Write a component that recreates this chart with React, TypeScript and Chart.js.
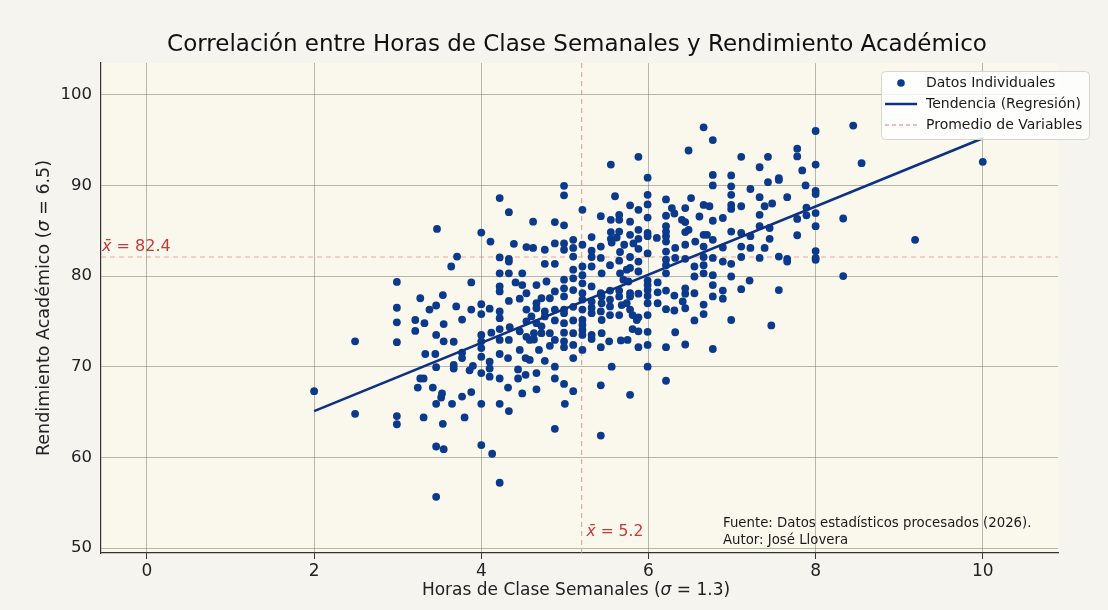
import React, { useEffect, useRef } from 'react';
import { Chart, registerables } from 'chart.js';

Chart.register(...registerables);

// ---------- data ----------
const hoursData: number[] = [
  4.22, 4.33, 3.47, 4.0, 4.11, 4.39, 4.54, 3.71, 4.22, 4.33,
  6.66, 6.77, 6.48, 5.88, 5.55, 7.11, 7.33, 7.43, 5.99, 6.77, 6.99, 7.43, 4.99, 4.99, 5.6, 5.99, 6.77, 6.99, 6.99, 7.22,
  7.33, 5.99, 6.21, 6.51, 5.21, 5.78, 5.88, 6.66, 6.73, 6.99, 6.99, 7.11, 7.39, 6.28, 6.44, 4.62, 4.88, 4.99, 5.43, 5.55,
  5.65, 5.65, 5.78, 5.99, 6.21, 6.31, 6.4, 6.61, 6.77, 6.89, 7.33, 7.33, 6.44, 6.21, 6.21, 5.88, 5.55, 5.55, 5.62, 5.32,
  5.1, 4.99, 4.99, 5.21, 5.32, 5.43, 5.56, 5.71, 5.82, 5.88, 5.99, 5.99, 6.1, 6.21, 6.21, 6.32, 6.44, 6.48, 6.56, 6.66,
  6.7, 6.77, 6.89, 6.99, 7.11, 7.22, 7.39, 5.99, 6.21, 5.66, 5.1, 4.62,
  8.0, 8.45, 7.78, 7.78, 7.84, 8.0, 8.55, 10.0, 7.56, 7.56, 7.88, 8.0, 8.0, 7.66, 7.48, 7.89, 8.0, 7.89, 7.78, 8.33,
  7.45, 8.0, 7.78, 7.45, 9.19, 8.0, 7.56, 7.66, 8.0,
  7.66, 8.0, 8.33, 7.56, 7.47,
  3.64, 2.99, 3.88, 3.27, 3.54, 3.46, 3.38, 3.7, 4.0, 3.88, 4.1, 4.0, 2.99, 2.99, 3.21, 3.32, 3.55, 3.77, 3.21, 3.46,
  2.49, 2.99, 3.55, 3.67, 4.0, 4.0, 4.0, 4.0, 4.12, 4.22, 4.22, 4.22, 4.22, 4.22, 4.22, 4.22, 4.33, 4.33, 4.33, 4.49,
  4.41, 4.54, 4.54, 4.34, 4.46, 4.33, 3.33, 3.45, 3.77, 3.77, 4.22, 4.32, 4.1, 4.1, 4.53, 4.53, 3.46, 3.67, 3.67, 3.86,
  3.9, 4.0, 4.44, 4.44, 3.27, 3.31, 3.24, 3.42, 4.1, 4.22, 4.32, 3.53, 3.52, 3.88, 3.77, 4.49, 2.0, 3.46, 3.65, 4.0, 4.22,
  2.49, 2.99, 2.99, 3.31, 3.54, 3.8, 4.33, 3.46, 3.55, 4.0, 4.13, 4.22, 3.46,
  4.88, 5.43, 5.0,
  6.99, 6.99, 7.21, 7.11, 6.89, 6.89, 6.77, 6.77, 6.66, 6.66, 6.55, 6.99, 6.77, 6.44, 6.32, 6.21, 6.21, 5.99, 5.99, 5.99,
  5.88, 5.78, 5.56, 5.43, 5.43, 5.67, 5.75, 5.53, 5.44, 5.32, 5.32, 5.21, 5.1, 5.1, 4.99, 4.99, 4.99, 5.1, 4.88, 4.76,
  4.66, 4.88, 4.99, 5.1, 4.66, 4.69, 4.58, 4.63, 4.72, 4.82, 4.72, 4.88, 4.99, 5.1, 4.99, 4.99, 5.1, 5.21, 5.21, 5.21,
  5.21, 5.21, 5.32, 5.44, 5.54, 5.65, 5.78, 5.81, 5.86, 5.88, 5.99, 5.99, 5.81, 5.88, 5.68, 5.74, 5.54, 5.44, 5.54, 5.65,
  5.78, 5.88, 5.54, 5.65, 5.78, 5.99, 5.99, 5.99, 6.11, 6.11, 6.21, 6.21, 6.31, 6.41, 6.44, 6.44, 6.21, 6.21, 6.21, 6.55,
  6.55, 6.66, 6.66, 6.77, 5.66, 5.74, 5.78, 5.88, 5.7, 5.76, 5.54, 5.44, 5.32, 5.32, 5.43, 5.21, 5.21, 5.21, 5.21, 5.21,
  5.1, 5.1, 5.1, 4.99, 4.99, 4.99, 4.88, 4.78, 4.66, 4.76, 4.88, 4.88, 4.76, 4.66, 4.66, 4.82, 4.72, 4.6, 4.88, 4.82,
  5.32, 5.43, 5.78, 5.88, 6.32, 6.44, 6.66, 6.77, 7.11, 7.33, 6.89, 5.65,
  4.66, 4.76, 4.63, 4.58, 5.32, 5.43, 5.32, 5.44, 5.99, 6.11, 6.31, 6.44, 6.55,
  5.1, 4.88, 4.76, 5.65, 5.78, 5.88, 6.44, 6.66, 7.11, 7.22,
  4.54, 4.46, 4.49, 4.54, 4.46,
];

const scoresData: number[] = [
  88.6, 87.05, 85.2, 84.8, 83.8, 83.55, 83.2, 82.15, 82.05, 81.9,
  96.4, 95.0, 93.85, 93.15, 92.3, 93.15, 92.0, 93.15, 90.85, 91.15, 91.1, 90.35, 89.95, 88.9, 88.8, 88.96, 90.0, 89.9, 88.96, 89.6,
  88.7, 87.9, 88.45, 88.6, 87.3, 87.8, 87.3, 87.85, 87.7, 87.85, 87.4, 87.7, 87.7, 87.5, 87.5, 86.0, 85.95, 85.6, 86.6, 86.2,
  86.75, 86.2, 86.0, 86.45, 86.65, 86.9, 86.2, 86.57, 86.1, 86.4, 86.75, 85.5, 85.95, 85.5, 84.9, 85.1, 84.85, 84.1, 84.25, 84.3,
  84.0, 83.6, 82.9, 83.45, 82.8, 83.25, 83.7, 83.45, 83.6, 83.0, 84.75, 84.4, 84.2, 84.4, 83.8, 83.1, 84.85, 85.1, 83.8, 84.55,
  84.55, 84.0, 83.15, 84.9, 84.75, 84.4, 83.1, 82.5, 82.7, 82.65, 82.15, 83.1,
  96.0, 96.6, 94.05, 93.2, 91.65, 92.3, 92.45, 92.6, 90.8, 90.6, 90.0, 89.4, 89.05, 88.7, 88.0, 87.55, 86.95, 86.7, 86.3, 86.35,
  85.3, 85.5, 84.5, 84.1, 84.0, 82.75, 82.15, 81.9, 82.0,
  81.6, 81.8, 80.0, 78.45, 74.55,
  81.05, 79.35, 79.3, 77.55, 77.9, 76.75, 76.3, 76.65, 76.9, 76.3, 76.4, 75.8, 76.5, 74.9, 75.15, 74.8, 74.7, 75.2, 73.95, 73.5,
  72.8, 72.7, 72.8, 72.75, 73.5, 72.8, 72.05, 71.1, 73.75, 72.95, 74.15, 76.1, 75.35, 78.85, 78.3, 80.3, 80.3, 77.25, 81.6, 80.3,
  79.3, 76.3, 75.0, 74.35, 73.9, 72.95, 71.4, 71.4, 71.55, 70.95, 71.4, 70.95, 70.55, 69.8, 70.95, 69.1, 69.95, 70.2, 69.8, 69.6,
  70.1, 69.3, 69.7, 68.7, 68.7, 68.7, 67.7, 67.7, 68.9, 68.7, 67.7, 67.05, 66.6, 67.2, 66.7, 67.05, 67.3, 65.9, 65.9, 65.9, 65.9,
  64.8, 64.55, 63.65, 64.4, 63.7, 64.4, 65.1, 61.2, 60.9, 61.35, 60.4, 57.2, 55.65,
  63.15, 62.4, 65.9,
  81.35, 79.95, 79.5, 78.55, 78.4, 77.5, 79.0, 77.75, 76.85, 75.8, 75.1, 75.15, 71.95, 72.45, 73.8, 72.15, 68.45, 70.0, 72.4, 73.85,
  72.15, 66.9, 70.0, 67.95, 72.15, 72.9, 72.95, 72.8, 73.7, 73.05, 73.5, 71.85, 72.4, 70.95, 72.8, 72.15, 73.75, 73.7, 70.0, 70.65,
  69.3, 68.7, 68.1, 67.3, 67.5, 71.85, 72.95, 73.7, 73.7, 73.7, 74.45, 75.1, 74.8, 75.1, 75.9, 76.3, 76.6, 76.3, 75.15, 74.6,
  74.05, 73.5, 77.2, 75.15, 75.7, 75.7, 76.3, 75.7, 75.15, 75.45, 75.7, 77.0, 74.15, 73.9, 76.8, 77.0, 76.65, 77.75, 77.4, 77.75,
  77.75, 78.05, 78.4, 78.4, 78.1, 79.5, 79.0, 78.45, 79.3, 78.2, 78.4, 76.35, 77.85, 77.2, 78.05, 78.65, 80.3, 81.2, 81.8, 81.05,
  79.95, 81.2, 80.3, 80.1, 80.3, 80.7, 80.9, 80.5, 79.6, 79.4, 81.2, 80.3, 81.05, 78.85, 78.1, 81.05, 80.1, 79.2, 78.1, 77.4,
  80.7, 79.75, 78.45, 79.6, 78.65, 77.75, 78.3, 79.4, 79.0, 81.35, 81.35, 76.3, 76.1, 77.0, 76.45, 77.55, 77.55, 75.55, 72.95, 72.3,
  82.1, 82.0, 82.1, 81.6, 82.0, 81.9, 82.1, 82.0, 82.1, 82.0, 81.6, 81.7,
  74.8, 75.55, 73.0, 70.75, 75.9, 76.1, 76.5, 77.0, 77.8, 77.0, 76.2, 76.45, 78.1,
  83.1, 83.6, 82.9, 84.9, 84.55, 84.1, 83.45, 83.25, 83.25, 83.1,
  73.3, 71.85, 79.0, 78.1, 77.5,
];

const trendHours = [2, 10];
const trendScores = [65.1, 95.2];
const meanHours = 5.2;
const meanScoreLine = 82.1;
const meanLabels = ['82.4', '5.2'];
const xTickValues = [0, 2, 4, 6, 8, 10];
const yTickValues = [50, 60, 70, 80, 90, 100];
const seriesLabels = ['Datos Individuales', 'Tendencia (Regresión)', 'Promedio de Variables'];
const titleText = 'Correlación entre Horas de Clase Semanales y Rendimiento Académico';
const xTitleParts = ['Horas de Clase Semanales (', 'σ', ' = 1.3)'];
const yTitleParts = ['Rendimiento Académico (', 'σ', ' = 6.5)'];
const footLines = ['Fuente: Datos estadísticos procesados (2026).', 'Autor: José Llovera'];

// ---------- styles ----------
const FONT = "'DejaVu Sans', 'Noto Sans', sans-serif";
const POINT_COLOR = '#0b3a8c';
const LINE_COLOR = '#0d3183';
const MEAN_COLOR = 'rgba(222, 120, 120, 0.65)';
const RED_TEXT = '#c43a3a';
const PAGE_BG = '#f5f4ef';
const PLOT_BG = '#faf8ec';
const GRID = 'rgba(115,115,104,0.5)';

function drawParts(ctx: CanvasRenderingContext2D, parts: string[], size: number, x: number, y: number) {
  const fonts = parts.map((_, i) => (i === 1 ? `italic ${size}px ${FONT}` : `${size}px ${FONT}`));
  let total = 0;
  const widths = parts.map((p, i) => {
    ctx.font = fonts[i];
    const w = ctx.measureText(p).width;
    total += w;
    return w;
  });
  let cx = x - total / 2;
  ctx.textAlign = 'left';
  ctx.textBaseline = 'middle';
  parts.forEach((p, i) => {
    ctx.font = fonts[i];
    ctx.fillText(p, cx, y);
    cx += widths[i];
  });
}

const decorPlugin = {
  id: 'decor',
  beforeDraw(chart: any) {
    const { ctx, chartArea: a } = chart;
    ctx.save();
    ctx.fillStyle = PAGE_BG;
    ctx.fillRect(0, 0, chart.width, chart.height);
    ctx.fillStyle = PLOT_BG;
    ctx.fillRect(a.left, a.top, a.right - a.left, a.bottom - a.top);
    ctx.restore();
  },
  beforeDatasetsDraw(chart: any) {
    const { ctx, chartArea: a, scales } = chart;
    const px = scales.x.getPixelForValue(meanHours);
    const py = scales.y.getPixelForValue(meanScoreLine);
    ctx.save();
    ctx.strokeStyle = MEAN_COLOR;
    ctx.lineWidth = 1.2;
    ctx.setLineDash([5, 4]);
    ctx.beginPath();
    ctx.moveTo(px, a.top);
    ctx.lineTo(px, a.bottom);
    ctx.moveTo(a.left, py);
    ctx.lineTo(a.right, py);
    ctx.stroke();
    ctx.restore();
  },
  afterDraw(chart: any) {
    const { ctx, chartArea: a, scales } = chart;
    ctx.save();
    // title
    ctx.fillStyle = '#111';
    ctx.font = `23px ${FONT}`;
    ctx.textAlign = 'center';
    ctx.textBaseline = 'middle';
    ctx.fillText(titleText, 577, 45);
    // axis titles
    ctx.fillStyle = '#222';
    drawParts(ctx, xTitleParts, 17, 576, 591);
    ctx.save();
    ctx.translate(44, (a.top + a.bottom) / 2);
    ctx.rotate(-Math.PI / 2);
    drawParts(ctx, yTitleParts, 17.5, 0, 0);
    ctx.restore();

    // mean labels
    const px = scales.x.getPixelForValue(meanHours);
    const py = scales.y.getPixelForValue(meanScoreLine);
    ctx.fillStyle = RED_TEXT;
    ctx.textAlign = 'left';
    ctx.textBaseline = 'middle';
    ctx.font = `italic 16px ${FONT}`;
    ctx.fillText('x\u0304', a.left + 1, py - 10);
    let w = ctx.measureText('x\u0304').width;
    ctx.font = `16px ${FONT}`;
    ctx.fillText(' = ' + meanLabels[0], a.left + 1 + w, py - 10);
    ctx.font = `italic 15.5px ${FONT}`;
    ctx.fillText('x\u0304', px + 5, a.bottom - 21);
    w = ctx.measureText('x\u0304').width;
    ctx.font = `15.5px ${FONT}`;
    ctx.fillText(' = ' + meanLabels[1], px + 5 + w, a.bottom - 21);

    // footnote
    ctx.fillStyle = '#1a1a1a';
    ctx.font = `13.3px ${FONT}`;
    ctx.fillText(footLines[0], 723, 524);
    ctx.fillText(footLines[1], 723, 541);

    // legend
    const lx = 881, ly = 71, lw = 208, lh = 68;
    ctx.fillStyle = 'rgba(255,255,255,0.82)';
    ctx.strokeStyle = '#d6d6d0';
    ctx.lineWidth = 1;
    ctx.beginPath();
    ctx.roundRect(lx + 0.5, ly + 0.5, lw, lh, 4);
    ctx.fill();
    ctx.stroke();
    const rows = [83, 104, 125];
    ctx.fillStyle = POINT_COLOR;
    ctx.beginPath();
    ctx.arc(901, rows[0], 3.8, 0, Math.PI * 2);
    ctx.fill();
    ctx.strokeStyle = LINE_COLOR;
    ctx.lineWidth = 2.5;
    ctx.beginPath();
    ctx.moveTo(885, rows[1]);
    ctx.lineTo(917, rows[1]);
    ctx.stroke();
    ctx.strokeStyle = MEAN_COLOR;
    ctx.lineWidth = 1.3;
    ctx.setLineDash([4, 3]);
    ctx.beginPath();
    ctx.moveTo(885, rows[2]);
    ctx.lineTo(917, rows[2]);
    ctx.stroke();
    ctx.setLineDash([]);
    ctx.fillStyle = '#1a1a1a';
    ctx.font = `14px ${FONT}`;
    seriesLabels.forEach((t, i) => ctx.fillText(t, 926, rows[i]));
    ctx.restore();
  },
};

export default function App() {
  const ref = useRef<HTMLCanvasElement | null>(null);
  useEffect(() => {
    if (!ref.current) return;
    const points = hoursData.map((h, i) => ({ x: h, y: scoresData[i] }));
    const trend = trendHours.map((h, i) => ({ x: h, y: trendScores[i] }));
    const chart = new Chart(ref.current, {
      type: 'scatter',
      data: {
        datasets: [
          {
            label: seriesLabels[0],
            data: points,
            backgroundColor: POINT_COLOR,
            borderColor: POINT_COLOR,
            borderWidth: 0,
            pointRadius: 3.9,
            order: 2,
          },
          {
            type: 'line',
            label: seriesLabels[1],
            data: trend,
            borderColor: LINE_COLOR,
            borderWidth: 2.6,
            pointRadius: 0,
            showLine: true,
            order: 1,
          } as any,
        ],
      },
      options: {
        animation: false,
        responsive: false,
        devicePixelRatio: 1,
        layout: { padding: { top: 63, right: 50, left: 0, bottom: 0 } },
        plugins: { legend: { display: false }, title: { display: false }, tooltip: { enabled: false } },
        scales: {
          x: {
            type: 'linear',
            min: -0.55,
            max: 10.9,
            afterBuildTicks: (s: any) => {
              s.ticks = xTickValues.map((v) => ({ value: v }));
            },
            afterFit: (s: any) => {
              s.height = 57;
            },
            grid: { color: GRID, lineWidth: 1, tickLength: 6, tickColor: '#333' },
            border: { display: true, color: '#333', width: 1.2 },
            ticks: { color: '#222', font: { family: FONT, size: 17 }, padding: 2 },
          },
          y: {
            type: 'linear',
            min: 49.45,
            max: 103.5,
            afterBuildTicks: (s: any) => {
              s.ticks = yTickValues.map((v) => ({ value: v }));
            },
            afterFit: (s: any) => {
              s.width = 101;
            },
            grid: { color: GRID, lineWidth: 1, drawTicks: false },
            border: { display: true, color: '#333', width: 1.2 },
            ticks: { color: '#222', font: { family: FONT, size: 16.5 }, padding: 9 },
          },
        },
      },
      plugins: [decorPlugin],
    });
    return () => chart.destroy();
  }, []);

  return (
    <div style={{ position: 'fixed', left: 0, top: 0, width: 1108, height: 610 }}>
      <canvas ref={ref} width={1108} height={610} style={{ width: 1108, height: 610, display: 'block' }} />
    </div>
  );
}
